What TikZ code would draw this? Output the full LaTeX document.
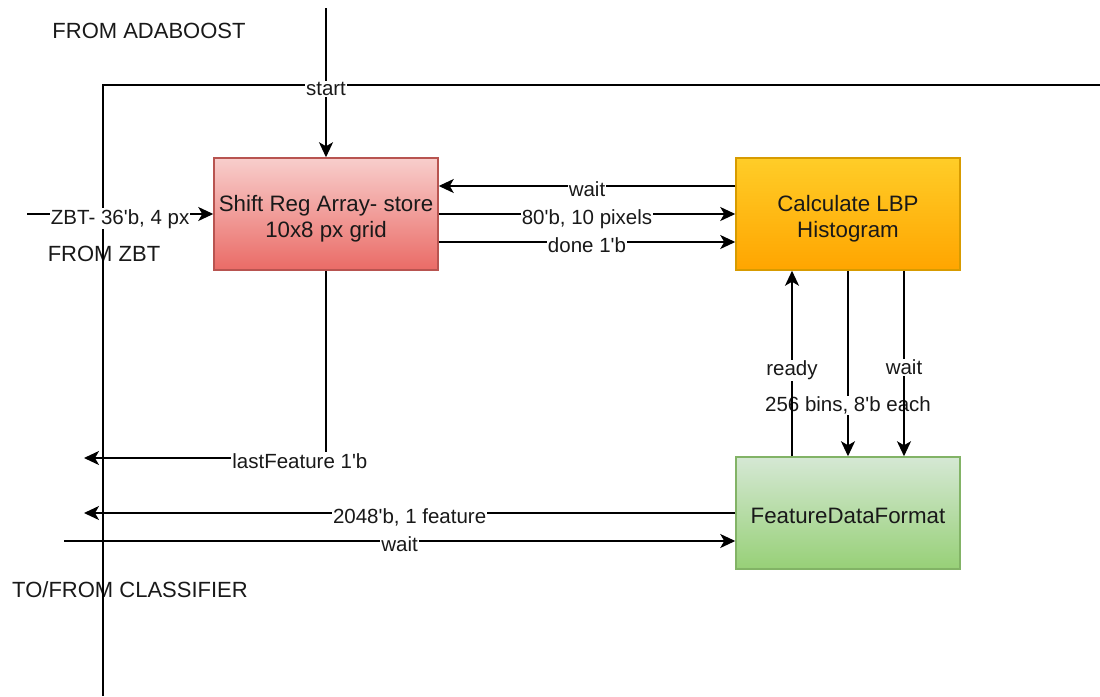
\documentclass[tikz,border=0pt]{standalone}
\usepackage{fontspec}
\setmainfont{Liberation Sans}
\usetikzlibrary{arrows.meta}

\definecolor{redtop}{HTML}{F8CECC}
\definecolor{redbot}{HTML}{EA6B66}
\definecolor{redline}{HTML}{B85450}
\definecolor{orgtop}{HTML}{FFCD28}
\definecolor{orgbot}{HTML}{FFA500}
\definecolor{orgline}{HTML}{D79B00}
\definecolor{grntop}{HTML}{D5E8D4}
\definecolor{grnbot}{HTML}{97D077}
\definecolor{grnline}{HTML}{82B366}

% block caption, set a little below the geometric centre
\newcommand{\blocktext}[1]{\raisebox{-5pt}[\height][\depth]{\begin{tabular}{@{}c@{}}#1\end{tabular}}}
\newcommand{\q}{\textquotesingle}

\begin{document}
\begin{tikzpicture}[x=1pt,y=-1pt,
  wire/.style={line width=1.8pt, draw=black},
  arr/.style={wire, -{Stealth[length=15pt,width=14pt,inset=4pt]}},
  lbl/.style={fill=white, inner sep=1pt, anchor=base, yshift=-10pt,
    font=\fontsize{20.5}{23}\selectfont, text=black!90},
  freetext/.style={inner sep=0pt, font=\fontsize{22}{25}\selectfont, text=black!90},
  block/.style={draw, line width=1.5pt, minimum width=224pt, minimum height=112pt,
    inner sep=0pt, font=\fontsize{22.3}{26}\selectfont, text=black!90},
  redblk/.style={block, draw=redline, top color=redtop, bottom color=redbot},
  orgblk/.style={block, draw=orgline, top color=orgtop, bottom color=orgbot},
  grnblk/.style={block, draw=grnline, top color=grntop, bottom color=grnbot}]

\useasboundingbox (0,0) rectangle (1100,696);

% side captions
\node[freetext] (tAda) at (149,31) {FROM ADABOOST};
\node[freetext] (tZbt) at (104,254) {FROM ZBT};
\node[freetext] (tCls) at (130,590) {TO/FROM CLASSIFIER};

% module boundary
\coordinate (fBL) at (103,696);
\coordinate (fTR) at (1100,85);
\draw[wire] (fBL) |- (fTR);

% blocks
\node[redblk] (shift) at (326,214) {\blocktext{Shift Reg Array- store\\10x8 px grid}};
\node[orgblk] (lbp) at (848,214) {\blocktext{Calculate LBP\\Histogram}};
\node[grnblk] (fdf) at (848,513) {\blocktext{FeatureDataFormat}};

% external ends
\coordinate (adaIn) at (326,8);
\coordinate (zbtIn) at (27,214);
\coordinate (lfOut) at (84,458);
\coordinate (featOut) at (84,513);
\coordinate (clsIn) at (64,541);

% inputs
\draw[arr] (adaIn) -- node[lbl, pos=0.52] {start} (shift.north);
\draw[arr] (zbtIn) -- node[lbl] {ZBT- 36\q b, 4 px} (shift.west);

% shift register <-> LBP
\draw[arr] (lbp.west |- 0,186) -- node[lbl] {wait} (shift.east |- 0,186);
\draw[arr] (shift.east) -- node[lbl] {80\q b, 10 pixels} (lbp.west);
\draw[arr] (shift.east |- 0,242) -- node[lbl] {done 1\q b} (lbp.west |- 0,242);

% LBP <-> feature formatter
\draw[arr] (lbp.south) -- node[lbl, pos=0.706] {256 bins, 8\q b each} (fdf.north);
\draw[arr] (fdf.north -| 792,0) -- node[lbl, pos=0.49] {ready} (lbp.south -| 792,0);
\draw[arr] (lbp.south -| 904,0) -- node[lbl, pos=0.508] {wait} (fdf.north -| 904,0);

% outputs to classifier
\draw[arr] (shift.south) |- node[lbl, pos=0.554] {lastFeature 1\q b} (lfOut);
\draw[arr] (fdf.west) -- node[lbl] {2048\q b, 1 feature} (featOut);
\draw[arr] (clsIn) -- node[lbl] {wait} (fdf.west |- 0,541);

\end{tikzpicture}
\end{document}
